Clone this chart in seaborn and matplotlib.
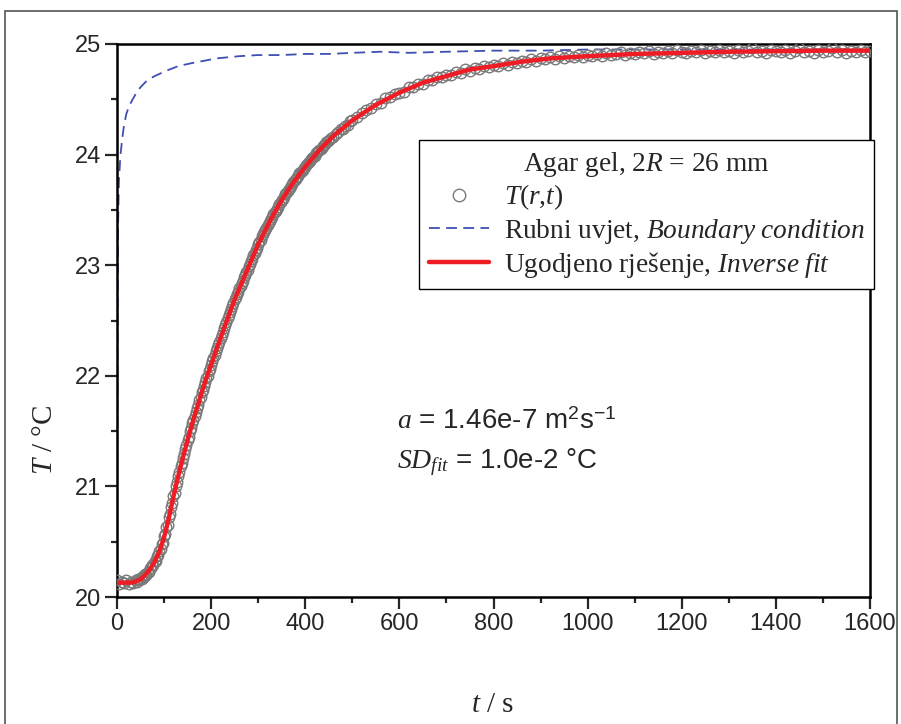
import matplotlib
matplotlib.use("Agg")
import matplotlib.pyplot as plt
from matplotlib.lines import Line2D
from matplotlib.patches import Rectangle
from matplotlib.ticker import MultipleLocator
import seaborn as sns
import pandas as pd

# ---------------- data ----------------
# measured temperature T(r,t)
t_meas = (list(range(0, 40, 5)) + [40 + 2.5 * i for i in range(165)]
          + list(range(455, 501, 5)) + list(range(510, 1601, 10)))
T_meas = [
    # 0 - 35 s
    20.15, 20.12, 20.14, 20.13, 20.15, 20.12, 20.14, 20.13,
    # 40 - 450 s (2.5 s)
    20.15, 20.14, 20.16, 20.15, 20.17, 20.16, 20.19, 20.18, 20.21, 20.20,
    20.23, 20.23, 20.26, 20.26, 20.29, 20.29, 20.33, 20.33, 20.37, 20.38,
    20.42, 20.43, 20.48, 20.49, 20.55, 20.57, 20.63, 20.65, 20.72, 20.75,
    20.81, 20.85, 20.91, 20.94, 21.00, 21.04, 21.09, 21.13, 21.18, 21.21,
    21.26, 21.29, 21.34, 21.37, 21.42, 21.45, 21.50, 21.53, 21.57, 21.60,
    21.64, 21.67, 21.71, 21.74, 21.78, 21.81, 21.85, 21.87, 21.91, 21.94,
    21.98, 22.00, 22.04, 22.06, 22.10, 22.13, 22.16, 22.19, 22.22, 22.25,
    22.28, 22.31, 22.34, 22.37, 22.40, 22.43, 22.46, 22.49, 22.52, 22.55,
    22.58, 22.60, 22.63, 22.66, 22.69, 22.71, 22.74, 22.76, 22.79, 22.81,
    22.84, 22.86, 22.89, 22.91, 22.94, 22.96, 22.99, 23.01, 23.04, 23.06,
    23.09, 23.11, 23.14, 23.16, 23.19, 23.21, 23.23, 23.26, 23.28, 23.30,
    23.32, 23.34, 23.36, 23.38, 23.40, 23.42, 23.44, 23.46, 23.48, 23.49,
    23.51, 23.53, 23.55, 23.57, 23.59, 23.60, 23.62, 23.64, 23.65, 23.67,
    23.69, 23.70, 23.72, 23.73, 23.75, 23.77, 23.78, 23.80, 23.81, 23.83,
    23.84, 23.85, 23.86, 23.88, 23.89, 23.91, 23.92, 23.93, 23.94, 23.96,
    23.97, 23.98, 23.99, 24.01, 24.02, 24.03, 24.04, 24.05, 24.06, 24.08,
    24.09, 24.10, 24.11, 24.12, 24.13,
    # 455 - 500 s
    24.15, 24.16, 24.19, 24.20, 24.23, 24.23, 24.26, 24.27, 24.30, 24.31,
    # 510 - 1600 s (10 s)
    24.34, 24.38, 24.40, 24.42, 24.46, 24.47, 24.51, 24.52, 24.55, 24.56,
    24.57, 24.61, 24.61, 24.64, 24.64, 24.67, 24.67, 24.70, 24.70, 24.72,
    24.72, 24.75, 24.74, 24.77, 24.76, 24.78, 24.77, 24.80, 24.79, 24.81,
    24.80, 24.83, 24.81, 24.84, 24.83, 24.85, 24.84, 24.86, 24.85, 24.87,
    24.86, 24.88, 24.86, 24.89, 24.87, 24.89, 24.88, 24.90, 24.88, 24.90,
    24.89, 24.91, 24.89, 24.92, 24.90, 24.91, 24.93, 24.90, 24.92, 24.91,
    24.93, 24.92, 24.94, 24.91, 24.93, 24.92, 24.94, 24.92, 24.95, 24.93,
    24.92, 24.94, 24.93, 24.95, 24.92, 24.94, 24.93, 24.95, 24.93, 24.94,
    24.92, 24.95, 24.93, 24.94, 24.96, 24.93, 24.94, 24.92, 24.95, 24.94,
    24.93, 24.95, 24.92, 24.94, 24.96, 24.93, 24.94, 24.92, 24.95, 24.93,
    24.94, 24.96, 24.93, 24.95, 24.92, 24.94, 24.93, 24.95, 24.93, 24.94,
]

# boundary condition
t_bc = [0, 1, 2, 4, 7, 11, 15, 20, 26, 32, 40, 50, 64, 80, 106, 130, 162, 212,
        260, 300, 350, 400, 450, 500, 560, 620, 700, 800, 900, 1000, 1200, 1400, 1600]
T_bc = [20.13, 22.0, 23.3, 23.75, 23.98, 24.14, 24.27, 24.37, 24.44, 24.49, 24.55,
        24.61, 24.67, 24.71, 24.76, 24.80, 24.83, 24.87, 24.89, 24.90, 24.90, 24.91,
        24.91, 24.92, 24.93, 24.92, 24.93, 24.94, 24.94, 24.95, 24.95, 24.95, 24.95]

# inverse fit
t_fit = [0, 10, 20, 30, 35, 40, 50, 60, 70, 80, 90, 100, 110, 120, 130, 140, 150,
         160, 170, 180, 190, 200, 215, 230, 250, 270, 300, 325, 350, 375, 400, 430,
         460, 500, 550, 600, 650, 700, 750, 800, 860, 920, 1000, 1100, 1200, 1300,
         1400, 1500, 1600]
T_fit = [20.13, 20.13, 20.13, 20.13, 20.135, 20.14, 20.16, 20.20, 20.25, 20.32,
         20.41, 20.54, 20.71, 20.91, 21.09, 21.26, 21.42, 21.57, 21.71, 21.85, 21.98,
         22.10, 22.28, 22.46, 22.69, 22.89, 23.19, 23.40, 23.59, 23.75, 23.89, 24.04,
         24.17, 24.31, 24.45, 24.56, 24.65, 24.71, 24.77, 24.80, 24.84, 24.87, 24.89,
         24.91, 24.92, 24.93, 24.935, 24.94, 24.94]

x_ticks = [0, 200, 400, 600, 800, 1000, 1200, 1400, 1600]
y_ticks = [20, 21, 22, 23, 24, 25]

legend_title = "Agar gel, 2$R$ = 26 mm"
lab_meas = "$T$($r$,$t$)"
lab_bc = "Rubni uvjet, $Boundary\\ condition$"
lab_fit = "Ugodjeno rješenje, $Inverse\\ fit$"

# ---------------- style ----------------
sns.set_style("white")
plt.rcParams["font.family"] = ["Liberation Serif", "DejaVu Serif"]
plt.rcParams["mathtext.fontset"] = "custom"
plt.rcParams["mathtext.rm"] = "Liberation Serif"
plt.rcParams["mathtext.it"] = "Liberation Serif:italic"
plt.rcParams["mathtext.bf"] = "Liberation Serif:bold"
plt.rcParams["mathtext.sf"] = "Liberation Sans"

W, H = 901, 724
fig = plt.figure(figsize=(W / 100, H / 100), dpi=100)
fig.patch.set_facecolor("white")
ax = fig.add_axes([117 / W, 1 - 597 / H, (870 - 117) / W, (597 - 44) / H])

df_meas = pd.DataFrame({"t": t_meas, "T": T_meas})
df_bc = pd.DataFrame({"t": t_bc, "T": T_bc})
df_fit = pd.DataFrame({"t": t_fit, "T": T_fit})

bc_color = "#3f4fb4"
red = "#ee1c24"
grey = "#7a7a7a"

sns.lineplot(data=df_bc, x="t", y="T", ax=ax, color=bc_color, lw=1.3,
             linestyle=(0, (6, 3.5)), sort=False, estimator=None, zorder=2)
sns.lineplot(data=df_meas, x="t", y="T", ax=ax, linestyle="", marker="o",
             mfc="none", mec=grey, ms=7.6, mew=1.0, sort=False, estimator=None, zorder=3)
sns.lineplot(data=df_fit, x="t", y="T", ax=ax, color=red, lw=3.2,
             sort=False, estimator=None, zorder=4)

ax.set_xlim(0, 1600)
ax.set_ylim(20, 25)
ax.set_xticks(x_ticks)
ax.set_yticks(y_ticks)
ax.xaxis.set_minor_locator(MultipleLocator(100))
ax.yaxis.set_minor_locator(MultipleLocator(0.5))
ax.set_xlabel("")
ax.set_ylabel("")
for s in ax.spines.values():
    s.set_linewidth(1.8)
    s.set_color("black")
ax.tick_params(axis="both", which="major", direction="out", length=8.5, width=1.6,
               labelsize=17, pad=3, bottom=True, left=True, top=False, right=False)
ax.tick_params(axis="both", which="minor", direction="out", length=4.5, width=1.6,
               bottom=True, left=True, top=False, right=False)
for lab in ax.get_xticklabels() + ax.get_yticklabels():
    lab.set_fontfamily("Liberation Sans")

fig.text(493 / W, 1 - 705 / H, "$t$ / s", ha="center", va="center", fontsize=21)
fig.text(45 / W, 1 - 440 / H, "$T$ / °C", ha="center", va="center", fontsize=21,
         rotation=90)

# annotation
fig.text(397 / W, 1 - 422 / H, "$a$ = 1.46e-7 m$^{\\mathsf{2}}$s$^{\\mathsf{-1}}$",
         ha="left", va="center", fontsize=20, fontfamily="Liberation Sans")
fig.text(397 / W, 1 - 462 / H, "$SD_{fit}$ = 1.0e-2 °C",
         ha="left", va="center", fontsize=20, fontfamily="Liberation Sans")

handles = [
    Line2D([], [], linestyle="", marker="o", mfc="none", mec=grey, ms=9, mew=1.0),
    Line2D([], [], color=bc_color, lw=1.3, linestyle=(0, (6, 3.5))),
    Line2D([], [], color=red, lw=3.2),
]
leg = ax.legend(handles, [lab_meas, lab_bc, lab_fit], title=legend_title,
                loc="upper left", bbox_to_anchor=((419 - 117) / 753, (597 - 140) / 553),
                frameon=True, fancybox=False, framealpha=1, edgecolor="black",
                fontsize=19.7, title_fontsize=19.7, handlelength=2.2,
                handletextpad=0.55, labelspacing=0.15, borderpad=0.35,
                borderaxespad=0)
leg.get_frame().set_linewidth(1.0)
leg.set_zorder(10)

# figure border
fig.add_artist(Rectangle((5 / W, -0.05), (897 - 5) / W, 1.05 - 11 / H,
                         transform=fig.transFigure, fill=False,
                         edgecolor="#555555", lw=1.2))

fig.savefig("out.png", dpi=100)
